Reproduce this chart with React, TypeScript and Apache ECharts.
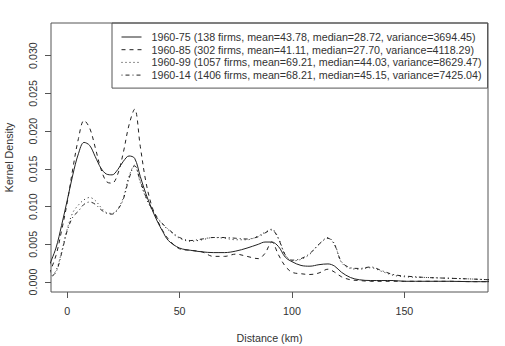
import React, { useEffect, useRef } from "react";
import * as echarts from "echarts";

const distanceKm = [
  -8, -5, -2.5, 0, 2.5, 5, 7.5, 10, 12.5, 15, 17.5, 20, 22.5, 25, 27.5, 30,
  32.5, 35, 37.5, 40, 42.5, 45, 50, 55, 60, 65, 70, 75, 80, 85, 88, 91, 94, 97,
  100, 104, 108, 112, 116, 119, 122, 126, 130, 135, 140, 145, 150, 160, 170,
  180, 188,
];

const density1960_75 = [
  0.0022, 0.0045, 0.0075, 0.0108, 0.0142, 0.017, 0.0185, 0.0181, 0.0166,
  0.0151, 0.0143, 0.0142, 0.0149, 0.016, 0.0167, 0.0164, 0.014, 0.0117, 0.0098,
  0.0081, 0.0067, 0.0055, 0.0045, 0.0042, 0.004, 0.0039, 0.0039, 0.0041,
  0.0045, 0.005, 0.0053, 0.0053, 0.0047, 0.0033, 0.0027, 0.0022, 0.0021,
  0.0023, 0.0024, 0.0021, 0.0013, 0.0006, 0.0003, 0.0002, 0.0002, 0.0002,
  0.0001, 0.0001, 0.0001, 0.00005, 0.00005,
];

const density1960_85 = [
  0.0011, 0.0035, 0.0068, 0.0105, 0.015, 0.019, 0.0214, 0.0204, 0.0178, 0.015,
  0.0133, 0.0131, 0.0143, 0.0172, 0.0208, 0.0229, 0.018, 0.0133, 0.0102,
  0.0083, 0.0068, 0.0057, 0.0044, 0.0042, 0.004, 0.0034, 0.0034, 0.0037,
  0.0034, 0.0031, 0.0038, 0.0053, 0.0036, 0.0021, 0.0013, 0.0011, 0.001,
  0.0012, 0.0017, 0.0013, 0.0007, 0.0003, 0.0002, 0.0001, 0.0001, 0.0001,
  0.0001, 0.0001, 0.0001, 0.00005, 0.00005,
];

const density1960_99 = [
  0.0005, 0.0015, 0.004, 0.007, 0.0092, 0.0102, 0.0109, 0.0112, 0.0108,
  0.0099, 0.0092, 0.0091, 0.0097, 0.0112, 0.014, 0.0155, 0.0132, 0.0112,
  0.0097, 0.0085, 0.0076, 0.0069, 0.0058, 0.0054, 0.0056, 0.0059, 0.0058,
  0.0056, 0.0056, 0.0061, 0.0066, 0.007, 0.0058, 0.0036, 0.0028, 0.003, 0.0037,
  0.005, 0.0059, 0.005, 0.0026, 0.0018, 0.0017, 0.0019, 0.0014, 0.0009,
  0.0007, 0.0006, 0.0005, 0.0004, 0.0003,
];

const density1960_14 = [
  0.0005, 0.0013, 0.0038, 0.0068, 0.0086, 0.0094, 0.0103, 0.0106, 0.0103,
  0.0096, 0.0091, 0.009, 0.0096, 0.011, 0.0137, 0.0154, 0.0134, 0.0113,
  0.0098, 0.0086, 0.0077, 0.007, 0.0059, 0.0055, 0.0057, 0.0059, 0.0059,
  0.0058, 0.0057, 0.006, 0.0065, 0.0069, 0.0057, 0.0036, 0.0029, 0.0031,
  0.0038, 0.005, 0.0058, 0.0049, 0.0027, 0.0019, 0.0018, 0.002, 0.0015, 0.001,
  0.0008, 0.0006, 0.0005, 0.0004, 0.0003,
];

const seriesNames = [
  "1960-75 (138 firms, mean=43.78, median=28.72, variance=3694.45)",
  "1960-85 (302 firms, mean=41.11, median=27.70, variance=4118.29)",
  "1960-99 (1057 firms, mean=69.21, median=44.03, variance=8629.47)",
  "1960-14 (1406 firms, mean=68.21, median=45.15, variance=7425.04)",
];

const xTickValues = [0, 50, 100, 150];
const yTickValues = [0, 0.005, 0.01, 0.015, 0.02, 0.025, 0.03];

const FONT = "'Liberation Sans', Arial, sans-serif";
const TEXT = "#333";
const LINE = "#222";

export default function App() {
  const ref = useRef<HTMLDivElement>(null);

  useEffect(() => {
    if (!ref.current) return;
    const chart = echarts.init(ref.current, null, { renderer: "svg" });
    const allDensities = [
      density1960_75,
      density1960_85,
      density1960_99,
      density1960_14,
    ];
    const dashes: any[] = ["solid", [4, 4], [1, 3], [1, 3, 4, 3]];

    chart.setOption({
      animation: false,
      backgroundColor: "#fff",
      textStyle: { fontFamily: FONT },
      grid: {
        left: 51,
        right: 17,
        top: 23,
        bottom: 54,
        show: true,
        borderColor: "#555",
        borderWidth: 1,
        containLabel: false,
        outerBoundsMode: "none",
      },
      legend: {
        orient: "vertical",
        left: 112,
        top: 23,
        padding: [8, 6, 7, 9],
        borderColor: "#555",
        borderWidth: 1,
        borderRadius: 0,
        itemWidth: 20,
        itemHeight: 12,
        itemGap: 0.7,
        selectedMode: false,
        textStyle: {
          fontFamily: FONT,
          fontSize: 10.7,
          color: TEXT,
          lineHeight: 12,
          padding: [0, 0, 0, 5],
        },
        data: seriesNames.map((name, i) => ({
          name,
          icon: "line",
          itemStyle: {
            color: LINE,
            borderColor: LINE,
            borderWidth: 1,
            borderType: dashes[i],
          },
        })),
      },
      xAxis: {
        type: "value",
        min: -7.2,
        max: 187.2,
        name: "Distance (km)",
        nameLocation: "middle",
        nameGap: 40,
        nameTextStyle: { fontFamily: FONT, fontSize: 10.7, color: TEXT },
        axisLine: { show: false, onZero: false },
        splitLine: { show: false },
        axisTick: {
          show: true,
          length: 6,
          customValues: xTickValues,
          lineStyle: { color: "#555" },
        },
        axisLabel: {
          customValues: xTickValues,
          margin: 13,
          fontFamily: FONT,
          fontSize: 10.7,
          color: TEXT,
        },
      },
      yAxis: {
        type: "value",
        min: -0.00132,
        max: 0.03432,
        name: "Kernel Density",
        nameLocation: "middle",
        nameRotate: 90,
        nameGap: 37,
        nameTextStyle: { fontFamily: FONT, fontSize: 10.7, color: TEXT },
        axisLine: { show: false, onZero: false },
        splitLine: { show: false },
        axisTick: {
          show: true,
          length: 6,
          customValues: yTickValues,
          lineStyle: { color: "#555" },
        },
        axisLabel: {
          customValues: yTickValues,
          rotate: 90,
          margin: 13,
          fontFamily: FONT,
          fontSize: 10.7,
          color: TEXT,
          formatter: (v: number) => v.toFixed(3),
        },
      },
      series: seriesNames.map((name, i) => ({
        name,
        type: "line",
        smooth: 0.35,
        symbol: "none",
        clip: true,
        lineStyle: { color: LINE, width: 1, type: dashes[i] },
        itemStyle: { color: LINE },
        data: distanceKm.map((x, j) => [x, allDensities[i][j]]),
      })),
    });
    return () => chart.dispose();
  }, []);

  return (
    <div
      ref={ref}
      style={{
        position: "fixed",
        left: 0,
        top: 0,
        width: 505,
        height: 346,
        background: "#fff",
      }}
    />
  );
}
